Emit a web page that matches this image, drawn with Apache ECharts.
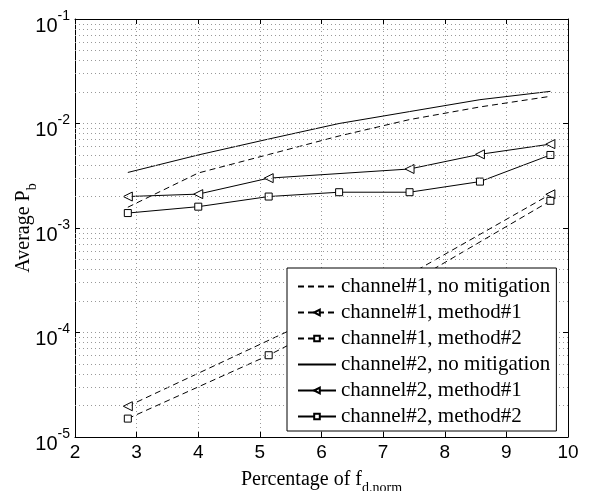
<!DOCTYPE html>
<html>
<head>
<meta charset="utf-8">
<script src="https://cdn.jsdelivr.net/npm/echarts@6/dist/echarts.min.js"></script>
<style>
  html, body { margin: 0; padding: 0; background: #fff; }
  #main { width: 612px; height: 491px; }
</style>
</head>
<body>
<div id="main"></div>
<script>
// x positions (percentage of f_d,norm)
const xAll = [2.857, 4, 5.143, 6.286, 7.429, 8.571, 9.714];

// channel #1
const ch1NoMit = [1.58e-3, 3.36e-3, 5.05e-3, 7.6e-3, 1.09e-2, 1.44e-2, 1.82e-2];
const ch1M1X = [2.857, 7.429, 9.714];
const ch1M1 = [1.97e-5, 3.6e-4, 2.1e-3];
const ch1M2X = [2.857, 5.143, 7.429, 9.714];
const ch1M2 = [1.5e-5, 6.06e-5, 2.97e-4, 1.82e-3];

// channel #2
const ch2NoMit = [3.4e-3, 5.0e-3, 7.1e-3, 1.0e-2, 1.3e-2, 1.69e-2, 2.03e-2];
const ch2M1X = [2.857, 4, 5.143, 7.429, 8.571, 9.714];
const ch2M1 = [2.0e-3, 2.11e-3, 3.0e-3, 3.67e-3, 5.07e-3, 6.35e-3];
const ch2M2 = [1.39e-3, 1.6e-3, 2.0e-3, 2.2e-3, 2.2e-3, 2.78e-3, 5.0e-3];

const names = [
    'channel#1, no mitigation', 'channel#1, method#1', 'channel#1, method#2',
    'channel#2, no mitigation', 'channel#2, method#1', 'channel#2, method#2'
];

const pairs = (xs, ys) => xs.map((x, i) => [x, ys[i]]);

// minor log grid lines (2..9 x 10^k), drawn across the full x range
const minorLines = [];
for (let k = -5; k <= -2; k++) {
    for (let m = 2; m <= 9; m++) {
        const v = m * Math.pow(10, k);
        minorLines.push([{ coord: [2, v] }, { coord: [10, v] }]);
    }
}

const dash = [6, 4];
const mk = (name, data, dashed, symbol) => ({
    name,
    type: 'line',
    data,
    symbol: symbol || 'none',
    symbolSize: symbol === 'rect' ? 7 : 9,
    symbolRotate: symbol === 'triangle' ? 90 : 0,
    showSymbol: !!symbol,
    lineStyle: { color: '#000', width: 1, type: dashed ? dash : 'solid' },
    itemStyle: { color: '#fff', borderColor: '#000', borderWidth: 1 },
    emphasis: { disabled: true },
    z: 3
});

const chart = echarts.init(document.getElementById('main'));

const serifFont = 'Liberation Serif';
const sansFont = 'Liberation Sans';
const noMarker = { color: 'rgba(0,0,0,0)', borderWidth: 0 };

const option = {
    animation: false,
    grid: { left: 75, right: 44, top: 19, bottom: 54, outerBoundsMode: 'none', containLabel: false },
    legend: {
        orient: 'vertical',
        left: 287,
        top: 268,
        padding: [8, 6, 4, 10],
        itemGap: 5,
        itemWidth: 38,
        itemHeight: 7,
        backgroundColor: '#fff',
        borderColor: '#000',
        borderWidth: 1,
        z: 10,
        textStyle: { fontFamily: serifFont, fontSize: 21, color: '#000', lineHeight: 20 },
        data: names.map((n, i) => (i === 0 || i === 3) ? { name: n, itemStyle: noMarker } : { name: n })
    },
    xAxis: [{
        type: 'value',
        min: 2, max: 10, interval: 1,
        axisLine: { lineStyle: { color: '#000' } },
        axisTick: { inside: true, length: 5, lineStyle: { color: '#000' } },
        axisLabel: { fontFamily: sansFont, fontSize: 19, color: '#000', margin: 6 },
        splitLine: { show: true, lineStyle: { color: '#999', type: [1, 3] } },
        name: '{a|Percentage of f}{s|d.norm}',
        nameLocation: 'middle',
        nameGap: 33,
        nameMoveOverlap: false,
        nameTextStyle: {
            rich: {
                a: { fontFamily: serifFont, fontSize: 20, color: '#000', lineHeight: 20, verticalAlign: 'top' },
                s: { fontFamily: serifFont, fontSize: 14, color: '#000', lineHeight: 14, padding: [11, 0, 0, 0], verticalAlign: 'top' }
            }
        }
    }, {
        type: 'value',
        position: 'top',
        min: 2, max: 10, interval: 1,
        axisLine: { show: true, lineStyle: { color: '#000' } },
        axisTick: { inside: true, length: 5, lineStyle: { color: '#000' } },
        axisLabel: { show: false },
        splitLine: { show: false }
    }],
    yAxis: [{
        type: 'log',
        logBase: 10,
        min: 1e-5, max: 1e-1,
        axisLine: { show: true, lineStyle: { color: '#000' } },
        axisTick: { inside: true, length: 5, lineStyle: { color: '#000' } },
        axisLabel: {
            margin: 5,
            formatter: v => '{b|10}{e|' + Math.round(Math.log10(v)) + '}',
            rich: {
                b: { fontFamily: sansFont, fontSize: 20, color: '#000', lineHeight: 20, padding: [7, 0, 7, 0], verticalAlign: 'top' },
                e: { fontFamily: sansFont, fontSize: 14, color: '#000', lineHeight: 14, verticalAlign: 'top' }
            }
        },
        splitLine: { show: true, lineStyle: { color: '#999', type: [1, 3] } },
        name: '{a|Average P}{s|b}',
        nameLocation: 'middle',
        nameGap: 41,
        nameMoveOverlap: false,
        nameTextStyle: {
            rich: {
                a: { fontFamily: serifFont, fontSize: 20, color: '#000', lineHeight: 20, verticalAlign: 'top' },
                s: { fontFamily: serifFont, fontSize: 14, color: '#000', lineHeight: 14, padding: [11, 0, 0, 0], verticalAlign: 'top' }
            }
        }
    }, {
        type: 'log',
        logBase: 10,
        position: 'right',
        min: 1e-5, max: 1e-1,
        axisLine: { show: true, lineStyle: { color: '#000' } },
        axisTick: { inside: true, length: 5, lineStyle: { color: '#000' } },
        axisLabel: { show: false },
        splitLine: { show: false }
    }],
    series: [
        Object.assign(mk(names[0], pairs(xAll, ch1NoMit), true, null), {
            markLine: {
                silent: true,
                symbol: 'none',
                animation: false,
                label: { show: false },
                lineStyle: { color: '#999', width: 1, type: [1, 3] },
                emphasis: { disabled: true },
                data: minorLines
            }
        }),
        mk(names[1], pairs(ch1M1X, ch1M1), true, 'triangle'),
        mk(names[2], pairs(ch1M2X, ch1M2), true, 'rect'),
        mk(names[3], pairs(xAll, ch2NoMit), false, null),
        mk(names[4], pairs(ch2M1X, ch2M1), false, 'triangle'),
        mk(names[5], pairs(xAll, ch2M2), false, 'rect')
    ]
};

chart.setOption(option);
</script>
</body>
</html>
